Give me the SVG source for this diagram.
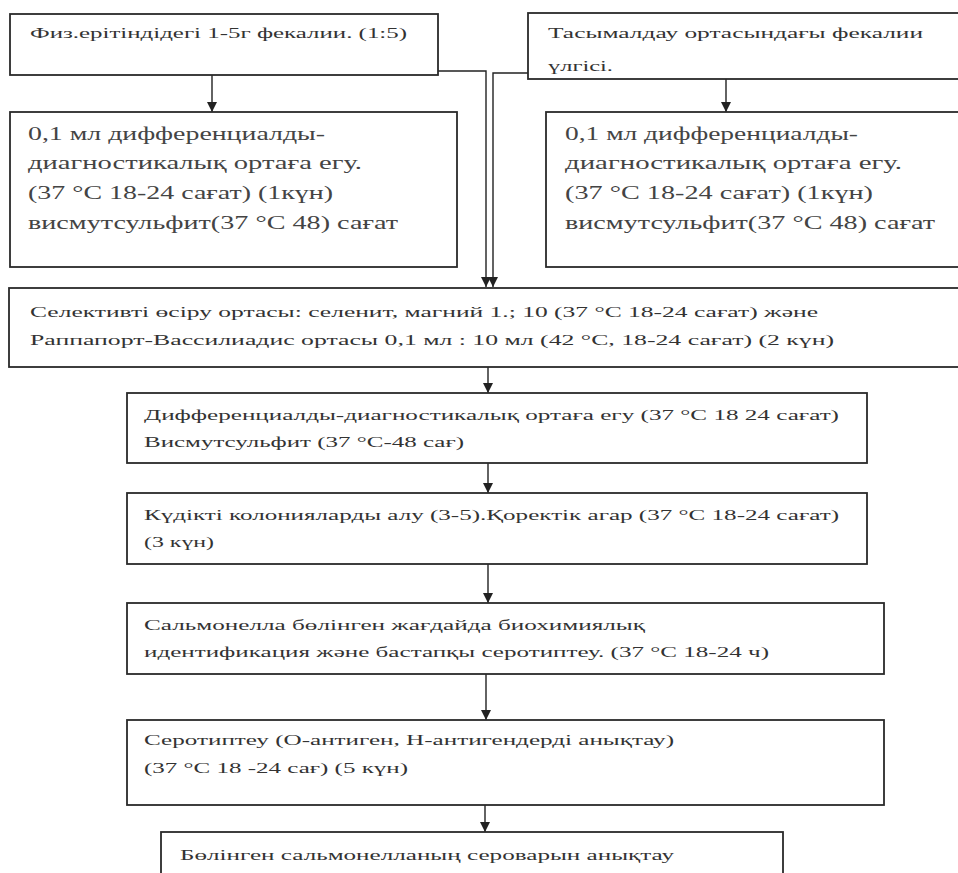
<svg xmlns="http://www.w3.org/2000/svg" width="958" height="873" viewBox="0 0 958 873">
<defs>
<marker id="ah" viewBox="0 0 10 10" refX="10" refY="5" markerWidth="10" markerHeight="10" markerUnits="userSpaceOnUse" orient="auto">
<path d="M0,0 L10,5 L0,10 z" fill="#222"/>
</marker>
<style>
.box{fill:#fff;stroke:#2a2a2a;stroke-width:1.8}
.t{font-family:"Liberation Serif","Times New Roman",serif;fill:#333;font-size:15px}
.b{font-size:19px;fill:#444}
.c{fill:none;stroke:#222;stroke-width:1.4}
</style>
</defs>
<rect width="958" height="873" fill="#fff"/>
<g id="connectors">
<line class="c" x1="212" y1="75" x2="212" y2="112" marker-end="url(#ah)"/>
<line class="c" x1="726" y1="79" x2="726" y2="112" marker-end="url(#ah)"/>
<polyline class="c" points="438,71 486,71 486,287" marker-end="url(#ah)"/>
<polyline class="c" points="528,73 493,73 493,287" marker-end="url(#ah)"/>
<line class="c" x1="488" y1="367" x2="488" y2="393" marker-end="url(#ah)"/>
<line class="c" x1="488" y1="463" x2="488" y2="493" marker-end="url(#ah)"/>
<line class="c" x1="488" y1="564" x2="488" y2="603" marker-end="url(#ah)"/>
<line class="c" x1="486" y1="674" x2="486" y2="720" marker-end="url(#ah)"/>
<line class="c" x1="485" y1="805" x2="485" y2="832" marker-end="url(#ah)"/>
</g>
<g id="n1">
<rect class="box" x="10" y="14" width="428" height="61"/>
<text class="t" x="30" y="38" textLength="377" lengthAdjust="spacingAndGlyphs">Физ.ерітіндідегі 1-5г фекалии. (1:5)</text>
</g>
<g id="n2">
<rect class="box" x="528" y="13" width="432" height="66"/>
<text class="t" x="548" y="38" textLength="375" lengthAdjust="spacingAndGlyphs">Тасымалдау ортасындағы фекалии</text>
<text class="t" x="548" y="71" textLength="65" lengthAdjust="spacingAndGlyphs">үлгісі.</text>
</g>
<g id="n3">
<rect class="box" x="10" y="112" width="447" height="155"/>
<text class="t b" x="28" y="140" textLength="297" lengthAdjust="spacingAndGlyphs">0,1 мл дифференциалды-</text>
<text class="t b" x="28" y="169" textLength="334" lengthAdjust="spacingAndGlyphs">диагностикалық ортаға егу.</text>
<text class="t b" x="28" y="199" textLength="305" lengthAdjust="spacingAndGlyphs">(37 °C 18-24 сағат) (1күн)</text>
<text class="t b" x="28" y="229" textLength="370" lengthAdjust="spacingAndGlyphs">висмутсульфит(37 °C 48) сағат</text>
</g>
<g id="n4">
<rect class="box" x="546" y="112" width="414" height="155"/>
<text class="t b" x="565" y="140" textLength="293" lengthAdjust="spacingAndGlyphs">0,1 мл дифференциалды-</text>
<text class="t b" x="565" y="169" textLength="337" lengthAdjust="spacingAndGlyphs">диагностикалық ортаға егу.</text>
<text class="t b" x="565" y="199" textLength="308" lengthAdjust="spacingAndGlyphs">(37 °C 18-24 сағат) (1күн)</text>
<text class="t b" x="565" y="229" textLength="370" lengthAdjust="spacingAndGlyphs">висмутсульфит(37 °C 48) сағат</text>
</g>
<g id="n5">
<rect class="box" x="9" y="288" width="951" height="79" stroke-width="2.4"/>
<text class="t" x="30" y="317" textLength="788" lengthAdjust="spacingAndGlyphs">Селективті өсіру ортасы: селенит,  магний 1.; 10  (37 °C 18-24 сағат) және</text>
<text class="t" x="30" y="345" textLength="804" lengthAdjust="spacingAndGlyphs">Раппапорт-Вассилиадис  ортасы   0,1 мл : 10 мл  (42 °C, 18-24 сағат) (2 күн)</text>
</g>
<g id="n6">
<rect class="box" x="127" y="393" width="740" height="70"/>
<text class="t" x="144" y="420" textLength="695" lengthAdjust="spacingAndGlyphs">Дифференциалды-диагностикалық   ортаға егу (37 °C 18 24 сағат)</text>
<text class="t" x="144" y="447" textLength="320" lengthAdjust="spacingAndGlyphs">Висмутсульфит (37 °C-48 сағ)</text>
</g>
<g id="n7">
<rect class="box" x="127" y="493" width="740" height="71"/>
<text class="t" x="144" y="520" textLength="695" lengthAdjust="spacingAndGlyphs">Күдікті колонияларды алу (3-5).Қоректік агар  (37 °C 18-24 сағат)</text>
<text class="t" x="144" y="547" textLength="70" lengthAdjust="spacingAndGlyphs">(3 күн)</text>
</g>
<g id="n8">
<rect class="box" x="127" y="603" width="757" height="71"/>
<text class="t" x="144" y="630" textLength="501" lengthAdjust="spacingAndGlyphs">Сальмонелла бөлінген жағдайда  биохимиялық</text>
<text class="t" x="144" y="657" textLength="625" lengthAdjust="spacingAndGlyphs">идентификация  және бастапқы  серотиптеу. (37 °C 18-24 ч)</text>
</g>
<g id="n9">
<rect class="box" x="127" y="720" width="757" height="85"/>
<text class="t" x="144" y="745" textLength="530" lengthAdjust="spacingAndGlyphs">Серотиптеу (О-антиген,  Н-антигендерді  анықтау)</text>
<text class="t" x="144" y="773" textLength="264" lengthAdjust="spacingAndGlyphs">(37 °C 18 -24 сағ) (5 күн)</text>
</g>
<g id="n10">
<rect class="box" x="161" y="832" width="622" height="50"/>
<text class="t" x="180" y="860" textLength="494" lengthAdjust="spacingAndGlyphs">Бөлінген сальмонелланың  сероварын анықтау</text>
</g>
</svg>
